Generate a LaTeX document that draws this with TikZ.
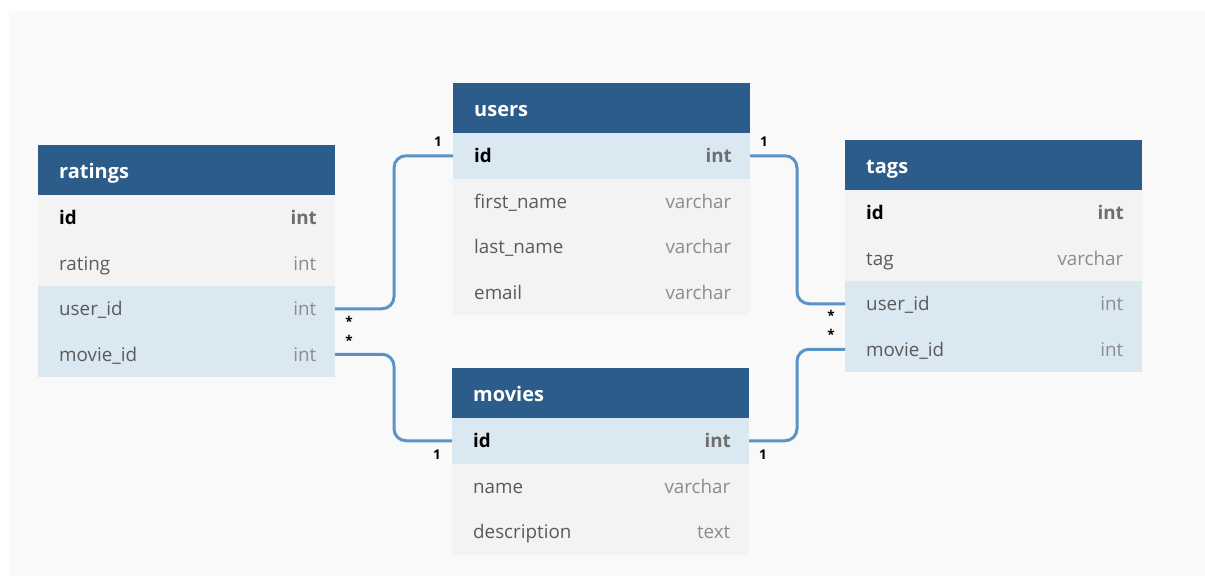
\documentclass[tikz,border=0pt]{standalone}
\usepackage{fontspec}
\setmainfont{Open Sans}
\usetikzlibrary{calc}
\definecolor{hdr}{HTML}{2B5C8A}
\definecolor{rowblue}{HTML}{DAE9F1}
\definecolor{rowgray}{HTML}{F3F3F3}
\definecolor{bgc}{HTML}{F9F9F9}
\definecolor{connc}{HTML}{5B93C8}
\definecolor{fieldc}{HTML}{5A5A5A}
\definecolor{typec}{HTML}{8C8C8C}
\definecolor{keytypec}{HTML}{6E6E6E}
\tikzset{
  tbl/.style={anchor=north west, minimum width=297pt, inner sep=0pt, outer sep=0pt},
  hdrbox/.style={tbl, fill=hdr, minimum height=50pt},
  rowbox/.style={tbl, minimum height=45.5pt},
  hdrtext/.style={anchor=base west, inner sep=0pt, text=white, font=\fontsize{20}{24}\selectfont\bfseries},
  fieldtext/.style={anchor=base west, inner sep=0pt, text=fieldc, font=\fontsize{18.8}{22}\selectfont},
  typetext/.style={anchor=base east, inner sep=0pt, text=typec, font=\fontsize{18.8}{22}\selectfont},
  keytext/.style={fieldtext, text=black, font=\fontsize{18.8}{22}\selectfont\bfseries},
  keytypetext/.style={typetext, text=keytypec, font=\fontsize{18.8}{22}\selectfont\bfseries},
  link/.style={draw=connc, line width=3pt, rounded corners=12pt},
  card/.style={font=\fontsize{13.5}{15}\selectfont\bfseries, text=black, inner sep=0pt, anchor=base},
}
% header: name, x, y, title
\newcommand\hdrrow[4]{\node[hdrbox] (#1) at (#2,#3) {};
  \node[hdrtext] (#1-n) at ($(#1.west)+(21,8)$) {#4};}
% key row: name, x, y, fill, field
\newcommand\keyrow[5]{\node[rowbox, fill=#4] (#1) at (#2,#3) {};
  \node[keytext] (#1-n) at ($(#1.west)+(21,7)$) {#5};
  \node[keytypetext] (#1-t) at ($(#1.east)+(-18,7)$) {int};}
% plain row: name, x, y, fill, field, type
\newcommand\plainrow[6]{\node[rowbox, fill=#4] (#1) at (#2,#3) {};
  \node[fieldtext] (#1-n) at ($(#1.west)+(21,7)$) {#5};
  \node[typetext] (#1-t) at ($(#1.east)+(-18.5,7)$) {#6};}
\begin{document}
\begin{tikzpicture}[x=1pt,y=-1pt]
\useasboundingbox (0,0) rectangle (1205,576);
\fill[bgc] (9,11) rectangle (1205,576);
% ratings
\hdrrow{ratings}{38}{145}{ratings}
\keyrow{ratings-id}{38}{195}{rowgray}{id}
\plainrow{ratings-rating}{38}{240.5}{rowgray}{rating}{int}
\plainrow{ratings-userid}{38}{286}{rowblue}{user\_id}{int}
\plainrow{ratings-movieid}{38}{331.5}{rowblue}{movie\_id}{int}
% users
\hdrrow{users}{453}{83}{users}
\keyrow{users-id}{453}{133}{rowblue}{id}
\plainrow{users-first}{453}{178.5}{rowgray}{first\_name}{varchar}
\plainrow{users-last}{453}{224}{rowgray}{last\_name}{varchar}
\plainrow{users-email}{453}{269.5}{rowgray}{email}{varchar}
% tags
\hdrrow{tags}{845}{140}{tags}
\keyrow{tags-id}{845}{190}{rowgray}{id}
\plainrow{tags-tag}{845}{235.5}{rowgray}{tag}{varchar}
\plainrow{tags-userid}{845}{281}{rowblue}{user\_id}{int}
\plainrow{tags-movieid}{845}{326.5}{rowblue}{movie\_id}{int}
% movies
\hdrrow{movies}{452}{368}{movies}
\keyrow{movies-id}{452}{418}{rowblue}{id}
\plainrow{movies-name}{452}{463.5}{rowgray}{name}{varchar}
\plainrow{movies-desc}{452}{509}{rowgray}{description}{text}
% connectors
\draw[link] (ratings-userid.east) -- ++(59,0) |- (users-id.west);
\draw[link] (ratings-movieid.east) -- ++(59,0) |- (movies-id.west);
\draw[link] (users-id.east) -- ++(47,0) |- (tags-userid.west);
\draw[link] (movies-id.east) -- ++(48,0) |- (tags-movieid.west);
% cardinalities
\node[card] (c-ru-1) at ($(users-id.west)+(-15,-9)$) {1};
\node[card] (c-ru-m) at ($(ratings-userid.east)+(14,18)$) {*};
\node[card] (c-rm-m) at ($(ratings-movieid.east)+(14,-9)$) {*};
\node[card] (c-rm-1) at ($(movies-id.west)+(-15,19)$) {1};
\node[card] (c-ut-1) at ($(users-id.east)+(14,-9)$) {1};
\node[card] (c-ut-m) at ($(tags-userid.west)+(-14,17)$) {*};
\node[card] (c-mt-m) at ($(tags-movieid.west)+(-14,-10)$) {*};
\node[card] (c-mt-1) at ($(movies-id.east)+(14,19)$) {1};
\end{tikzpicture}
\end{document}
